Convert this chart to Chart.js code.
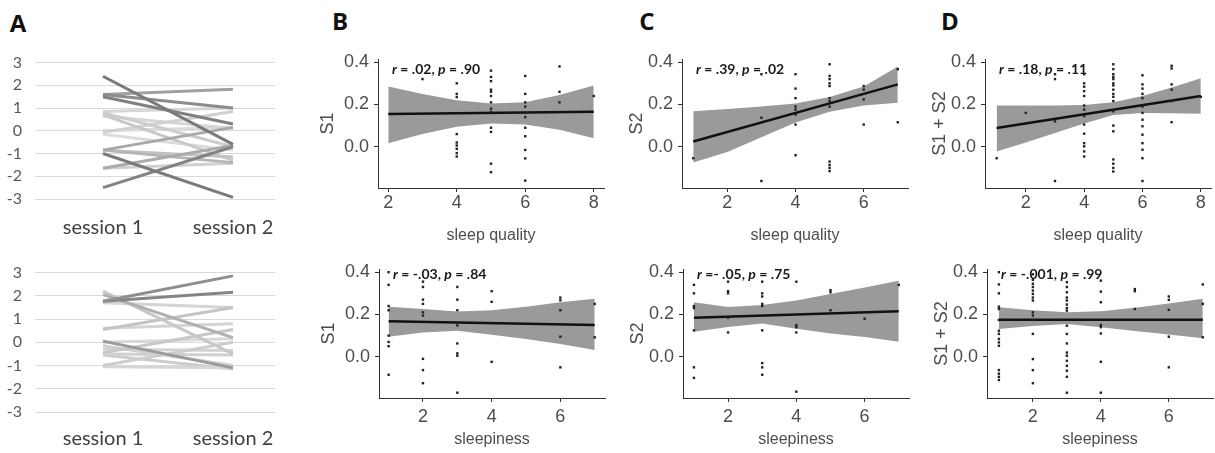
<!DOCTYPE html>
<html>
<head>
<meta charset="utf-8">
<script src="https://cdn.jsdelivr.net/npm/chart.js@4.4.1/dist/chart.umd.min.js"></script>
<style>
  body { margin: 0; background: #fff; width: 1215px; height: 453px; overflow: hidden; position: relative; }
  canvas { position: absolute; }
  .lab { position: absolute; font: bold 24px "Open Sans", sans-serif; color: #111; transform: translate(-50%, -50%); }
</style>
</head>
<body>
<div class="lab" style="left:18px;top:22px">A</div>
<div class="lab" style="left:340px;top:20px">B</div>
<div class="lab" style="left:647px;top:20px">C</div>
<div class="lab" style="left:950px;top:20px">D</div>
<canvas id="aTop"></canvas>
<canvas id="aBot"></canvas>
<canvas id="bTop"></canvas>
<canvas id="bBot"></canvas>
<canvas id="cTop"></canvas>
<canvas id="cBot"></canvas>
<canvas id="dTop"></canvas>
<canvas id="dBot"></canvas>
<script>
// --- panel A: z-scores per participant, session 1 -> session 2
const sessions = ['session 1', 'session 2'];
const aTicks = [-3, -2, -1, 0, 1, 2, 3];
const aTopS1 = [2.4, -1.0, -2.5, 1.5, 1.6, 1.6, -0.85, -1.65, -0.85, -0.85, 0.7, 0.8, -1.65, -0.07, 0.85, 0.65, 0.0, -0.15];
const aTopS2 = [-0.6, -2.93, -0.7, 0.3, 1.0, 1.83, 0.15, -0.65, -1.4, -1.15, -1.3, -0.7, -1.43, 0.85, 1.0, 0.1, 0.15, -0.85];
const aBotS1 = [1.77, 1.77, 0.05, 2.05, 2.2, 0.55, 1.7, 0.6, -0.45, -1.0, -0.15, -0.5, -1.05, -0.55, 0.0, -0.3];
const aBotS2 = [2.86, 2.15, -1.1, 0.2, -0.5, 1.5, 1.5, 0.8, 0.55, 0.0, -1.0, -0.55, -1.1, -1.15, 0.15, -0.35];
// line greys (style only)
const aTopGrey = ['#7a7a7a','#7a7a7a','#828282','#808080','#8c8c8c','#a0a0a0','#a8a8a8','#ababab','#b5b5b5',
                  '#c2c2c2','#c8c8c8','#cccccc','#d0d0d0','#d0d0d0','#d6d6d6','#d6d6d6','#dadada','#dcdcdc'];
const aBotGrey = ['#8e8e8e','#858585','#9a9a9a','#b0b0b0','#c8c8c8','#c4c4c4','#d4d4d4','#d4d4d4',
                  '#c8c8c8','#cdcdcd','#cfcfcf','#d0d0d0','#d6d6d6','#cccccc','#d8d8d8','#d2d2d2'];

// --- scatter panels
const yTicks = [0, 0.2, 0.4];
const quality8 = [2, 4, 6, 8];
const quality6 = [2, 4, 6];
const sleepTicks = [2, 4, 6];

// B: S1
const bTopPts = [[3,0.32],
  [4,0.30],[4,0.25],[4,0.235],[4,0.06],[4,0.02],[4,0.006],[4,-0.01],[4,-0.03],[4,-0.046],
  [5,0.36],[5,0.33],[5,0.31],[5,0.27],[5,0.26],[5,0.24],[5,0.21],[5,0.18],[5,0.165],[5,0.09],[5,0.07],[5,-0.08],[5,-0.12],
  [6,0.335],[6,0.25],[6,0.21],[6,0.19],[6,0.16],[6,0.14],[6,0.09],[6,0.05],[6,-0.015],[6,-0.055],[6,-0.16],
  [7,0.38],[7,0.26],[7,0.21],[8,0.24]];
const bTopFitX = [2, 8], bTopFit = [0.155, 0.165];
const bTopBandX = [2, 3, 4, 5, 6, 7, 8];
const bTopHi = [0.285, 0.25, 0.22, 0.205, 0.21, 0.245, 0.29];
const bTopLo = [0.017, 0.06, 0.095, 0.11, 0.105, 0.08, 0.04];
const bTopStat = 'r = .02, p = .90';

const bBotPts = [[1,0.40],[1,0.34],[1,0.24],[1,0.22],[1,0.10],[1,0.07],[1,0.05],[1,-0.085],
  [2,0.355],[2,0.33],[2,0.27],[2,0.25],[2,0.21],[2,0.195],[2,-0.01],[2,-0.063],[2,-0.125],
  [3,0.33],[3,0.27],[3,0.22],[3,0.148],[3,0.063],[3,0.016],[3,0.005],[3,-0.17],
  [4,0.31],[4,0.26],[4,-0.024],
  [6,0.28],[6,0.267],[6,0.22],[6,0.095],[6,-0.05],[7,0.25],[7,0.092]];
const bBotFitX = [1, 7], bBotFit = [0.168, 0.15];
const bBotBandX = [1, 2, 3, 4, 5, 6, 7];
const bBotHi = [0.237, 0.226, 0.214, 0.22, 0.237, 0.258, 0.274];
const bBotLo = [0.095, 0.115, 0.123, 0.104, 0.084, 0.06, 0.032];
const bBotStat = 'r = -.03, p = .84';

// C: S2
const cTopPts = [[1,-0.054],[3,0.343],[3,0.137],[3,-0.162],
  [4,0.343],[4,0.275],[4,0.23],[4,0.19],[4,0.176],[4,0.152],[4,0.105],[4,-0.04],
  [5,0.39],[5,0.335],[5,0.32],[5,0.30],[5,0.287],[5,0.23],[5,0.216],[5,0.19],[5,-0.07],[5,-0.086],[5,-0.10],[5,-0.115],
  [6,0.287],[6,0.27],[6,0.224],[6,0.105],[7,0.367],[7,0.116]];
const cTopFitX = [1, 7], cTopFit = [0.025, 0.295];
const cTopBandX = [1, 2, 3, 4, 5, 6, 7];
const cTopHi = [0.168, 0.178, 0.19, 0.205, 0.235, 0.285, 0.38];
const cTopLo = [-0.075, -0.025, 0.045, 0.115, 0.165, 0.195, 0.208];
const cTopStat = 'r = .39, p = .02';

const cBotPts = [[1,0.34],[1,0.30],[1,0.24],[1,0.23],[1,0.125],[1,-0.05],[1,-0.10],
  [2,0.355],[2,0.31],[2,0.30],[2,0.185],[2,0.115],
  [3,0.355],[3,0.30],[3,0.285],[3,0.25],[3,0.24],[3,0.125],[3,-0.03],[3,-0.05],[3,-0.085],
  [4,0.355],[4,0.15],[4,0.14],[4,0.115],[4,-0.165],
  [5,0.315],[5,0.305],[5,0.22],[6,0.18],[7,0.34]];
const cBotFitX = [1, 7], cBotFit = [0.185, 0.215];
const cBotBandX = [1, 2, 3, 4, 5, 6, 7];
const cBotHi = [0.258, 0.235, 0.245, 0.266, 0.297, 0.328, 0.359];
const cBotLo = [0.118, 0.141, 0.157, 0.133, 0.11, 0.094, 0.071];
const cBotStat = 'r =- .05, p = .75';

// D: S1 + S2
const dTopPts = [[1,-0.054],[2,0.16],[3,0.343],[3,0.32],[3,0.12],[3,-0.162],
  [4,0.343],[4,0.30],[4,0.284],[4,0.263],[4,0.24],[4,0.195],[4,0.176],[4,0.145],[4,0.105],[4,0.062],[4,0.017],[4,0.002],[4,-0.022],[4,-0.046],
  [5,0.39],[5,0.367],[5,0.343],[5,0.33],[5,0.32],[5,0.30],[5,0.29],[5,0.27],[5,0.25],[5,0.236],[5,0.216],[5,0.168],[5,0.10],[5,0.073],[5,-0.06],[5,-0.08],[5,-0.10],[5,-0.117],
  [6,0.338],[6,0.295],[6,0.275],[6,0.25],[6,0.23],[6,0.19],[6,0.16],[6,0.128],[6,0.097],[6,0.057],[6,0.017],[6,-0.014],[6,-0.054],[6,-0.162],
  [7,0.383],[7,0.37],[7,0.295],[7,0.27],[7,0.216],[7,0.116],[8,0.236]];
const dTopFitX = [1, 8], dTopFit = [0.089, 0.24];
const dTopBandX = [1, 2, 3, 4, 5, 6, 7, 8];
const dTopHi = [0.195, 0.195, 0.195, 0.198, 0.21, 0.24, 0.28, 0.324];
const dTopLo = [-0.022, 0.02, 0.065, 0.11, 0.15, 0.16, 0.158, 0.156];
const dTopStat = 'r = .18, p = .11';

const dBotPts = [[1,0.40],[1,0.342],[1,0.30],[1,0.237],[1,0.226],[1,0.174],[1,0.123],[1,0.108],[1,0.084],[1,0.068],[1,0.052],[1,-0.063],[1,-0.08],[1,-0.095],[1,-0.11],
  [2,0.39],[2,0.364],[2,0.345],[2,0.33],[2,0.313],[2,0.297],[2,0.28],[2,0.266],[2,0.21],[2,0.195],[2,0.174],[2,0.108],[2,-0.011],[2,-0.063],[2,-0.125],
  [3,0.353],[3,0.33],[3,0.305],[3,0.28],[3,0.266],[3,0.247],[3,0.23],[3,0.218],[3,0.147],[3,0.108],[3,0.063],[3,0.02],[3,0.005],[3,-0.019],[3,-0.043],[3,-0.066],[3,-0.095],[3,-0.17],
  [4,0.36],[4,0.308],[4,0.258],[4,0.15],[4,0.14],[4,0.11],[4,-0.024],[4,-0.17],
  [5,0.32],[5,0.31],[5,0.226],[6,0.285],[6,0.269],[6,0.222],[6,0.095],[6,-0.05],
  [7,0.342],[7,0.25],[7,0.092]];
const dBotFitX = [1, 7], dBotFit = [0.175, 0.175];
const dBotBandX = [1, 2, 3, 4, 5, 6, 7];
const dBotHi = [0.234, 0.22, 0.21, 0.215, 0.232, 0.252, 0.274];
const dBotLo = [0.131, 0.145, 0.155, 0.14, 0.122, 0.105, 0.087];
const dBotStat = 'r = -.001, p = .99';

Chart.defaults.animation = false;
Chart.defaults.font.family = '"Liberation Sans", Arial, sans-serif';

function place(id, left, top, w, h) {
  const c = document.getElementById(id);
  c.width = w; c.height = h;
  c.style.left = left + 'px'; c.style.top = top + 'px';
  return c;
}

// r / p in italics, rest bold
const statPlugin = {
  id: 'stat',
  afterDraw(chart, args, opts) {
    const { ctx, chartArea } = chart;
    const y = chart.scales.y.getPixelForValue(opts.at);
    let x = chartArea.left + opts.dx;
    ctx.save();
    ctx.fillStyle = '#1a1a1a';
    ctx.textBaseline = 'middle';
    opts.text.split(/([rp])/).forEach(part => {
      if (!part) return;
      ctx.font = (part === 'r' || part === 'p' ? 'italic ' : '') + 'bold 14px Lato';
      ctx.fillText(part, x, y);
      x += ctx.measureText(part).width;
    });
    ctx.restore();
  }
};

function makeA(id, top, padTop, areaH, axisH, s1, s2, greys, labPad) {
  const cv = place(id, 0, top, 300, padTop + areaH + axisH);
  new Chart(cv, {
    type: 'line',
    data: {
      datasets: s1.map((v, i) => ({
        data: [{ x: 1, y: v }, { x: 2, y: s2[i] }],
        borderColor: greys[i], borderWidth: 3, pointRadius: 0
      }))
    },
    options: {
      responsive: false, events: [],
      layout: { padding: { top: padTop, right: 25, left: 0, bottom: 0 } },
      plugins: { legend: { display: false }, tooltip: { enabled: false } },
      scales: {
        x: {
          type: 'linear', min: 0.477, max: 2.323,
          afterBuildTicks: s => { s.ticks = [1, 2].map(v => ({ value: v })); },
          afterFit: s => { s.height = axisH; },
          grid: { display: false, drawTicks: false }, border: { display: false },
          ticks: { callback: v => sessions[v - 1], font: { family: 'Lato', size: 20 }, color: '#404040', padding: labPad, maxRotation: 0 }
        },
        y: {
          min: -3, max: 3,
          afterBuildTicks: s => { s.ticks = aTicks.map(v => ({ value: v })); },
          afterFit: s => { s.width = 35; },
          grid: { color: '#d9d9d9', lineWidth: 1, drawTicks: false }, border: { display: false },
          ticks: { font: { family: 'Lato', size: 16 }, color: '#595959', padding: 13 }
        }
      }
    }
  });
}

function makeScatter(id, left, top, axisW, padTop, axisH, xMin, xMax, xTicks, pts, fitX, fit, bandX, hi, lo, stat, statAt, xTitle, yTitle, xPad) {
  const cv = place(id, left, top, axisW + 230, padTop + 129 + axisH);
  new Chart(cv, {
    type: 'line',
    data: {
      datasets: [
        { data: pts.map(p => ({ x: p[0], y: p[1] })), showLine: false, pointStyle: 'rect',
          pointRadius: 1.7, backgroundColor: '#222', borderWidth: 0, order: 0 },
        { data: fitX.map((x, i) => ({ x, y: fit[i] })), borderColor: '#111', borderWidth: 2.5, pointRadius: 0, order: 1 },
        { data: bandX.map((x, i) => ({ x, y: hi[i] })), borderColor: 'rgba(0,0,0,0)', pointRadius: 0, fill: false, order: 2 },
        { data: bandX.map((x, i) => ({ x, y: lo[i] })), borderColor: 'rgba(0,0,0,0)', pointRadius: 0, fill: '-1',
          backgroundColor: '#9a9a9a', order: 2 }
      ]
    },
    options: {
      responsive: false, events: [],
      layout: { padding: { top: padTop, right: 2, left: 0, bottom: 0 } },
      plugins: { legend: { display: false }, tooltip: { enabled: false }, stat: { text: stat, at: statAt, dx: 14 } },
      scales: {
        x: {
          type: 'linear', min: xMin, max: xMax,
          afterBuildTicks: s => { s.ticks = xTicks.map(v => ({ value: v })); },
          afterFit: s => { s.height = axisH; },
          grid: { drawOnChartArea: false, drawTicks: true, tickLength: 4, color: '#333' },
          border: { display: true, color: '#333', width: 1 },
          ticks: { font: { size: 18 }, color: '#4d4d4d', padding: xPad, maxRotation: 0 },
          title: { display: true, text: xTitle, font: { size: 16 }, color: '#4d4d4d', padding: { top: 4, bottom: 4 } }
        },
        y: {
          min: -0.195, max: 0.415,
          afterBuildTicks: s => { s.ticks = yTicks.map(v => ({ value: v })); },
          afterFit: s => { s.width = axisW; },
          grid: { drawOnChartArea: false, drawTicks: true, tickLength: 4, color: '#333' },
          border: { display: true, color: '#333', width: 1 },
          ticks: { font: { size: 18 }, color: '#4d4d4d', padding: 5, callback: v => v.toFixed(1) },
          title: { display: true, text: yTitle, font: { size: 18 }, color: '#4d4d4d', padding: { top: 4, bottom: 4 } }
        }
      }
    },
    plugins: [statPlugin]
  });
}

makeA('aTop', 40, 20, 139, 46, aTopS1, aTopS2, aTopGrey, 17);
makeA('aBot', 250, 16, 146, 41, aBotS1, aBotS2, aBotGrey, 15);

makeScatter('bTop', 313, 40, 65, 19, 61, 1.7, 8.3, quality8, bTopPts, bTopFitX, bTopFit, bTopBandX, bTopHi, bTopLo, bTopStat, 0.365, 'sleep quality', 'S1', 0);
makeScatter('cTop', 622, 40, 60, 19, 61, 0.67, 7.3, quality6, cTopPts, cTopFitX, cTopFit, cTopBandX, cTopHi, cTopLo, cTopStat, 0.365, 'sleep quality', 'S2', 0);
makeScatter('dTop', 925, 40, 60, 19, 61, 0.6, 8.35, quality8, dTopPts, dTopFitX, dTopFit, dTopBandX, dTopHi, dTopLo, dTopStat, 0.365, 'sleep quality', 'S1 + S2', 0);
makeScatter('bBot', 314, 249, 65, 20, 55, 0.72, 7.3, sleepTicks, bBotPts, bBotFitX, bBotFit, bBotBandX, bBotHi, bBotLo, bBotStat, 0.39, 'sleepiness', 'S1', 4);
makeScatter('cBot', 623, 249, 60, 20, 55, 0.68, 7.3, sleepTicks, cBotPts, cBotFitX, cBotFit, cBotBandX, cBotHi, cBotLo, cBotStat, 0.39, 'sleepiness', 'S2', 4);
makeScatter('dBot', 927, 249, 60, 20, 55, 0.65, 7.3, sleepTicks, dBotPts, dBotFitX, dBotFit, dBotBandX, dBotHi, dBotLo, dBotStat, 0.39, 'sleepiness', 'S1 + S2', 4);
</script>
</body>
</html>
